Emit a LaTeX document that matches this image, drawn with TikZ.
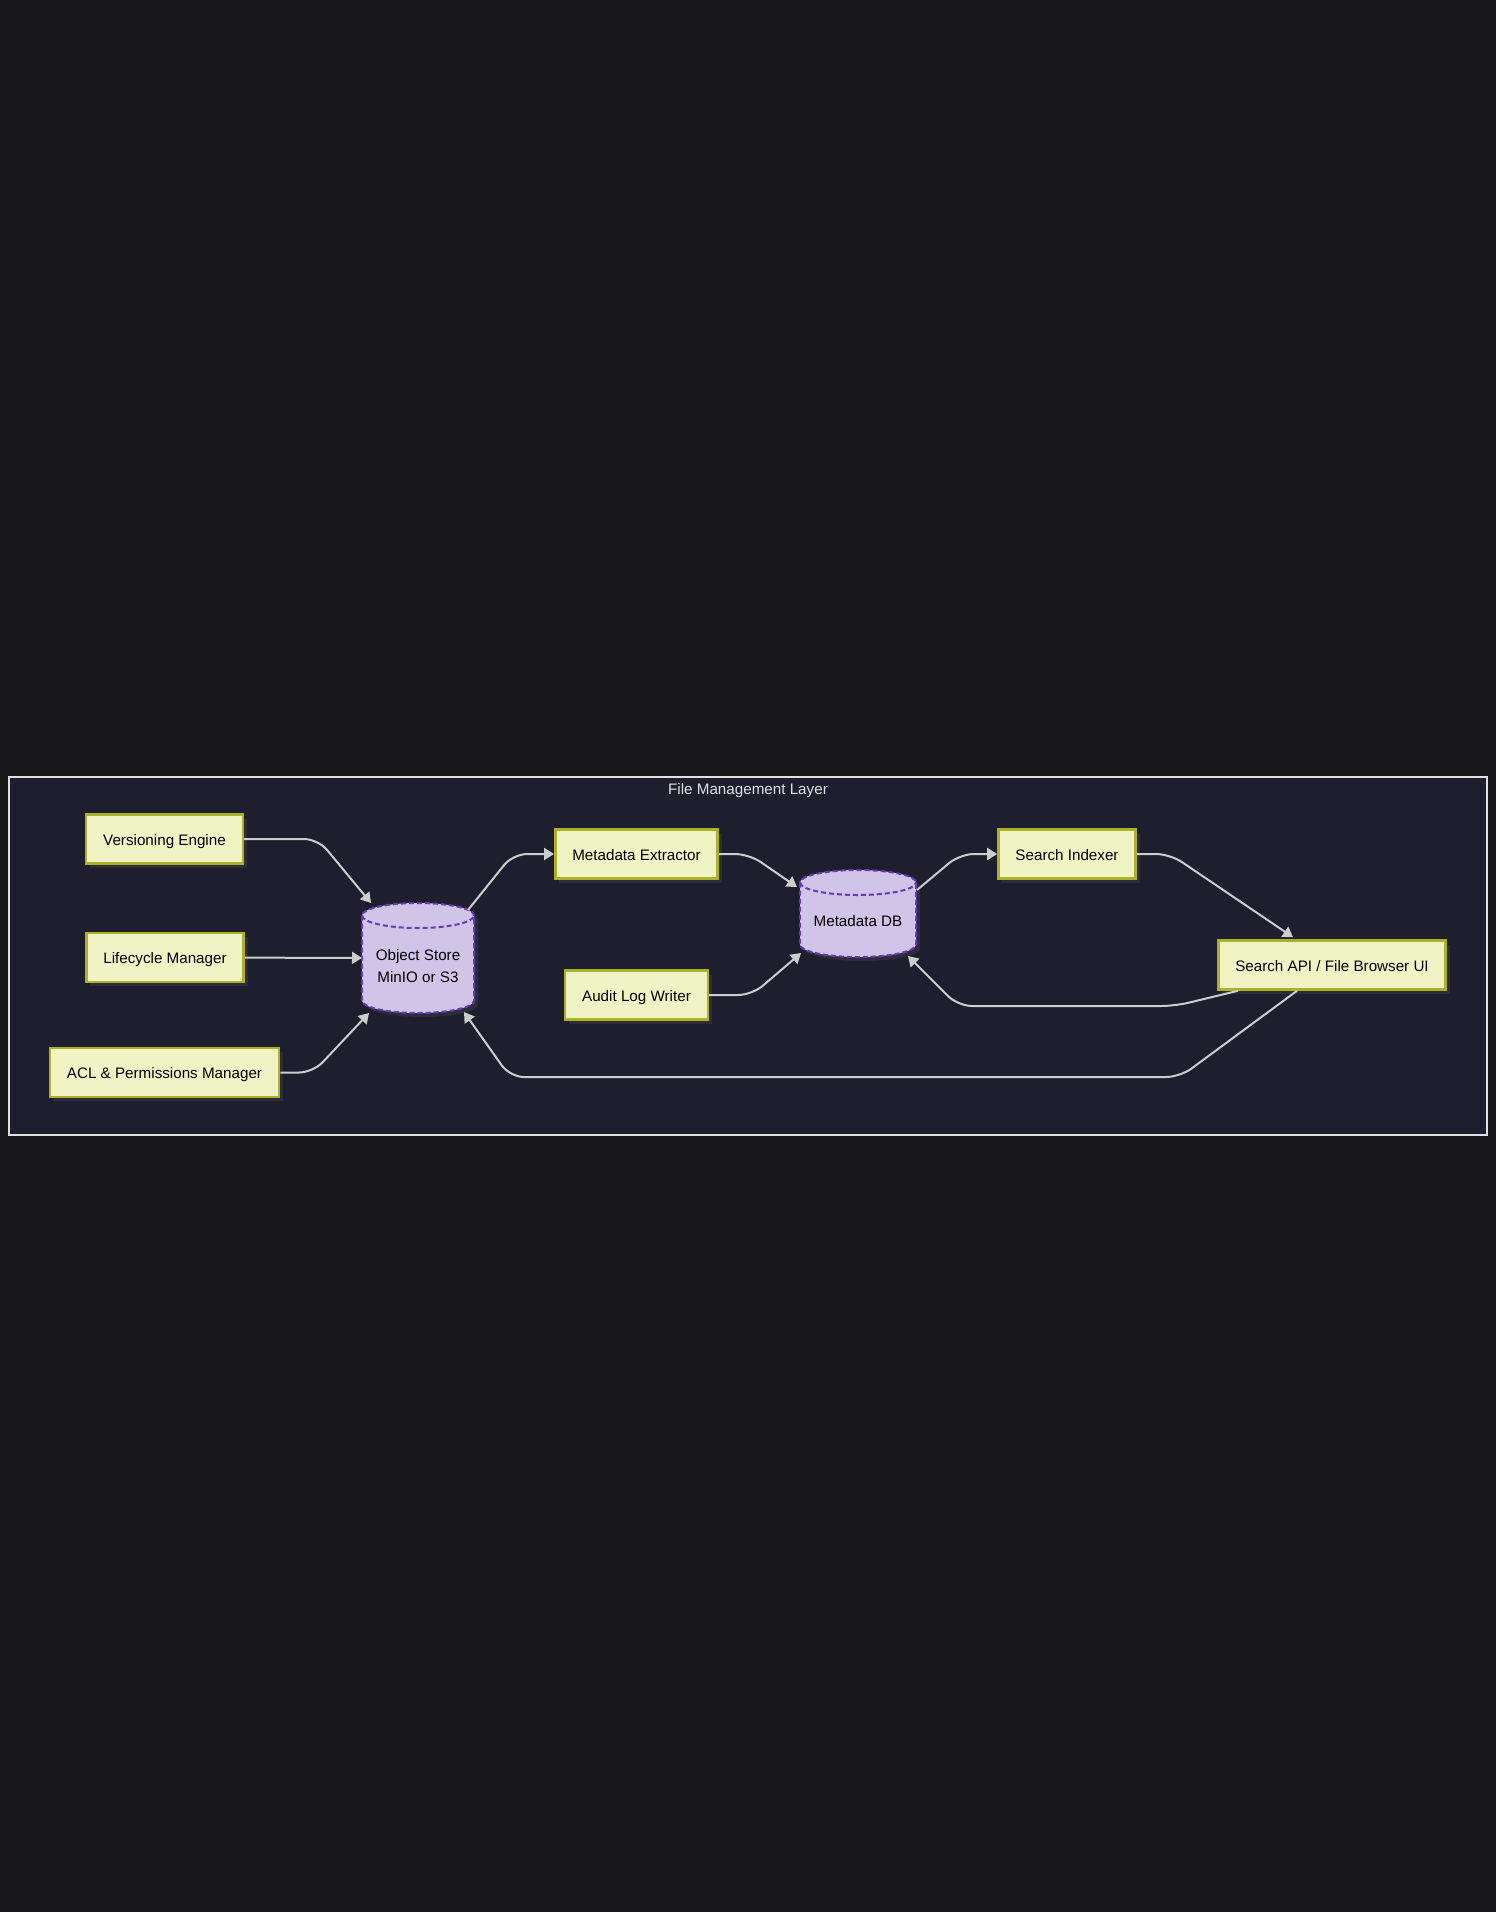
\documentclass[tikz,border=0pt]{standalone}
\usepackage{fontspec}
\setmainfont{Liberation Sans}
\usepackage{xcolor}
\usepackage{tikz}
\usetikzlibrary{arrows.meta, calc, shadows}

\definecolor{pagebg}{RGB}{24,24,27}
\definecolor{layerbg}{RGB}{30,30,46}
\definecolor{layerline}{RGB}{225,225,225}
\definecolor{boxfill}{RGB}{240,244,196}
\definecolor{boxline}{RGB}{172,178,38}
\definecolor{dbfillc}{RGB}{209,196,233}
\definecolor{dbline}{RGB}{103,58,183}
\definecolor{edgec}{RGB}{205,205,205}
\definecolor{shadowc}{RGB}{44,44,60}

% cylinder drawn round a centre: #1 centre, #2 half width, #3 half height
\newcommand{\dbdraw}[3]{%
  \begin{scope}[shift={(#1)}, x=1bp, y=1bp]
    \fill[shadowc, shift={(4,-4)}] (-#2,#3-12.5) -- (-#2,-#3+12.5)
      arc[start angle=180, end angle=360, x radius=#2, y radius=12.5]
      -- (#2,#3-12.5)
      arc[start angle=0, end angle=180, x radius=#2, y radius=12.5] -- cycle;
    \path[dbshape] (-#2,#3-12.5) -- (-#2,-#3+12.5)
      arc[start angle=180, end angle=360, x radius=#2, y radius=12.5]
      -- (#2,#3-12.5)
      arc[start angle=0, end angle=180, x radius=#2, y radius=12.5] -- cycle;
    \draw[dbshape, fill=none] (-#2,#3-12.5)
      arc[start angle=180, end angle=360, x radius=#2, y radius=12.5];
  \end{scope}}

\begin{document}
\begin{tikzpicture}[
    x=1bp, y=-1bp,
    every node/.style={font=\fontsize{15.2bp}{22.7bp}\selectfont},
    svcbox/.style={rectangle, draw=boxline, line width=2.5bp, fill=boxfill, text=black,
        inner xsep=17bp, minimum height=49bp, text height=15.8bp, text depth=3.2bp,
        drop shadow={fill=shadowc, opacity=1, shadow xshift=4bp, shadow yshift=-4bp}},
    dbnode/.style={rectangle, draw=none, inner sep=0pt, outer sep=0pt},
    dbtext/.style={align=center, text=black, yshift=-8bp},
    dbshape/.style={fill=dbfillc, draw=dbline, line width=2bp, dash pattern=on 5bp off 3bp},
    layer/.style={draw=layerline, line width=2bp, fill=layerbg},
    arr/.style={-{Triangle[length=10bp, width=12bp]}, draw=edgec, line width=2bp, rounded corners=14bp},
    ttl/.style={text=layerline}
]

\useasboundingbox[fill=pagebg] (0,0) rectangle (1496,1912);

% File Management Layer
\draw[layer] (8.5,776.5) rectangle (1487,1135);
\node[ttl] (layertitle) at (748,790.5) {File Management Layer};

% Storage side (left)
\node[svcbox] (ve) at (164.5,839) {Versioning Engine};
\node[svcbox] (lm) at (165,957.5) {Lifecycle Manager};
\node[svcbox] (acl) at (164.5,1072.5) {ACL \& Permissions Manager};

\dbdraw{418,958}{56}{55}
\node[dbnode, minimum width=112bp, minimum height=110bp,
    label={[dbtext]center:Object Store\\MinIO or S3}] (os) at (418,958) {};

% Metadata (middle)
\node[svcbox] (me) at (636.5,854) {Metadata Extractor};
\node[svcbox] (al) at (636.5,995) {Audit Log Writer};

\dbdraw{858,913.5}{58}{43.5}
\node[dbnode, minimum width=116bp, minimum height=87bp,
    label={[dbtext]center:Metadata DB}] (md) at (858,913.5) {};

% Search (right)
\node[svcbox] (si) at (1067,854) {Search Indexer};
\node[svcbox] (sa) at (1332,965) {Search API / File Browser UI};

\draw[arr] (ve.east) -- (318,839) -- ($(os.north west)+(9,0)$);
\draw[arr] (lm) -- (os);
\draw[arr] (acl.east) -- (313,1072.5) -- ($(os.south west)+(7,0)$);
\draw[arr] ($(os.north east)+(-6,7)$) -- (513,854) -- (me.west);
\draw[arr] (me.east) -- (749,854) -- ($(md.north west)+(-3,17)$);
\draw[arr] (al.east) -- (752,995) -- ($(md.south west)+(1,-4)$);
\draw[arr] ($(md.north east)+(1,20)$) -- (960,854) -- (si.west);
\draw[arr] (si.east) -- (1170,854) -- ($(sa.north west)+(76,-2)$);
\draw[arr] ($(sa.south west)+(21,0)$) -- (1175,1006) -- (958,1006) -- ($(md.south east)+(-8,-1)$);
\draw[arr] ($(sa.south west)+(80,0)$) -- (1180,1077) -- (510,1077) -- ($(os.south east)+(-10,-1)$);

\end{tikzpicture}
\end{document}
